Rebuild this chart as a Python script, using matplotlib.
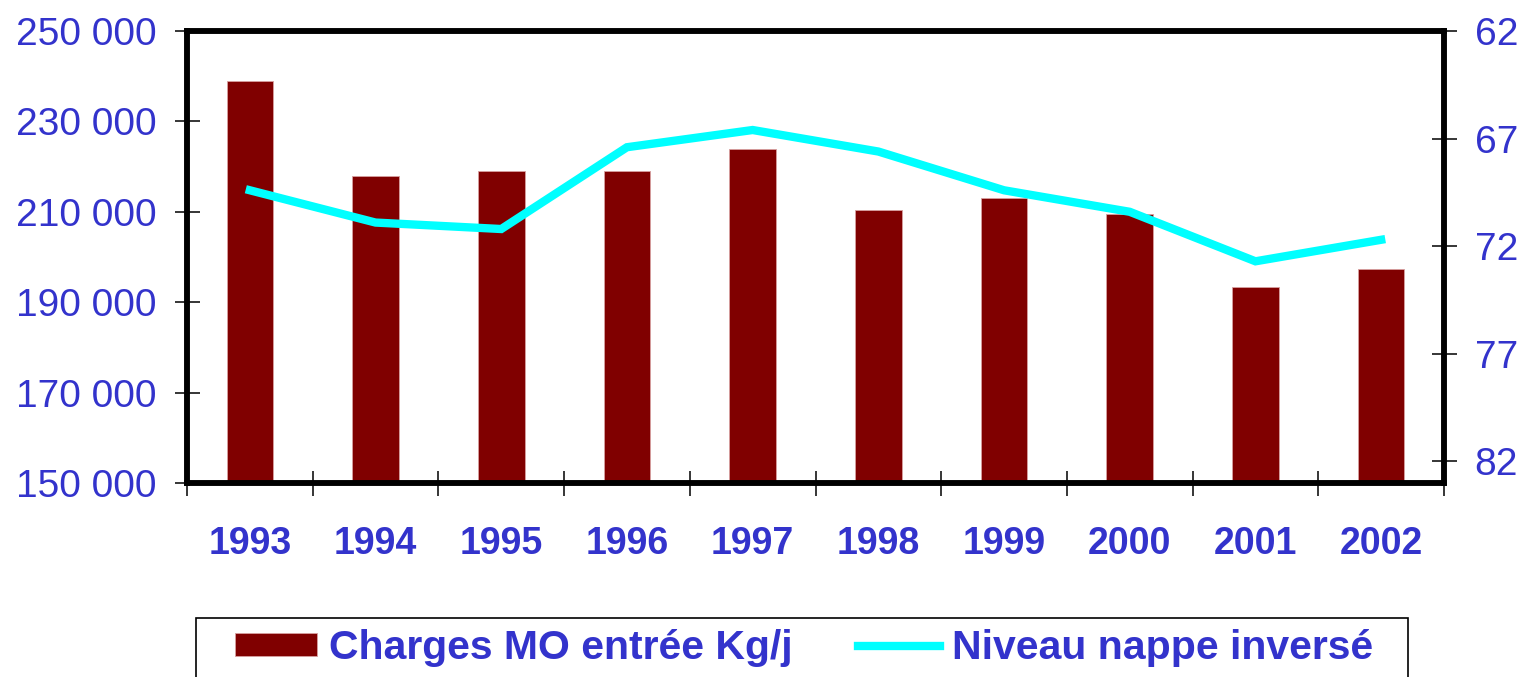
import matplotlib.pyplot as plt
from matplotlib.patches import Rectangle
from matplotlib.ticker import FuncFormatter
import numpy as np

plt.rcParams['font.family'] = ['Liberation Sans', 'DejaVu Sans']

years = ['1993', '1994', '1995', '1996', '1997', '1998', '1999', '2000', '2001', '2002']
charges = [238900, 217900, 219100, 219100, 223800, 210500, 213100, 209500, 193300, 197400]
nappe = [69.4, 70.9, 71.2, 67.4, 66.6, 67.6, 69.4, 70.4, 72.7, 71.7]
left_ticks = [150000, 170000, 190000, 210000, 230000, 250000]
right_ticks = [62, 67, 72, 77, 82]

blue = '#3333CC'
maroon = '#800000'
cyan = '#00FFFF'

fig = plt.figure(figsize=(15.22, 6.77), dpi=100)
ax = fig.add_axes([187/1522, 1 - 483/677, (1444 - 187)/1522, (483 - 31)/677])
ax2 = ax.twinx()

x = np.arange(len(years))
ax.bar(x, charges, width=0.37, color=maroon, edgecolor='#d8a0a0', linewidth=0.6,
       label='Charges MO entrée Kg/j', zorder=2)
ax2.plot(x, nappe, color=cyan, lw=6, solid_joinstyle='miter',
         label='Niveau nappe inversé', zorder=3)

ax.set_xlim(-0.5, len(years) - 0.5)
ax.set_ylim(150000, 250000)
ax.set_yticks(left_ticks)
ax.yaxis.set_major_formatter(FuncFormatter(lambda v, p: f'{int(v):,}'.replace(',', ' ')))
ax2.set_ylim(83, 62)
ax2.set_yticks(right_ticks)

# ticks at category boundaries, labels at centres
ax.set_xticks(np.arange(-0.5, len(years), 1.0))
ax.set_xticklabels([])
ax.set_xticks(x, minor=True)
ax.set_xticklabels(years, minor=True)
ax.tick_params(axis='x', which='major', direction='inout', length=18, width=1.1, color='black')
ax.tick_params(axis='x', which='minor', length=0, pad=31, labelsize=27, labelcolor=blue)
for t in ax.get_xticklabels(minor=True):
    t.set_fontweight('bold')

ax.tick_params(axis='y', direction='inout', length=18, width=1.1, pad=13,
               labelsize=28, labelcolor=blue)
ax2.tick_params(axis='y', direction='inout', length=18, width=1.1, pad=13,
                labelsize=28, labelcolor=blue)

for a in (ax, ax2):
    for s in a.spines.values():
        s.set_linewidth(4)
        s.set_color('black')

# legend box
fig.patches.append(Rectangle((196/1522, 1 - 700/677), (1408 - 196)/1522, (700 - 618)/677,
                             transform=fig.transFigure, facecolor='white',
                             edgecolor='black', linewidth=1.2))
h1, l1 = ax.get_legend_handles_labels()
h2, l2 = ax2.get_legend_handles_labels()
fig.legend(h1 + h2, l1 + l2, loc='center', bbox_to_anchor=(804/1522, 1 - 648/677),
           ncol=2, frameon=False, borderpad=0, handlelength=2.0, handleheight=0.5,
           handletextpad=0.3, columnspacing=1.6,
           prop={'weight': 'bold', 'size': 29.5}, labelcolor=blue)

fig.savefig('out.png', dpi=100)
